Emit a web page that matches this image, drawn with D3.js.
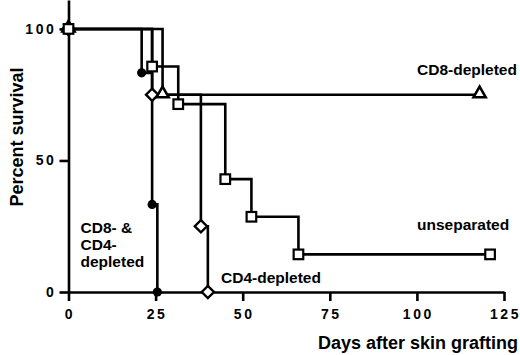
<!DOCTYPE html>
<html>
<head>
<meta charset="utf-8">
<script src="https://cdn.jsdelivr.net/npm/d3@7"></script>
<style>
  body { margin: 0; background: #fff; }
  text { font-family: "Liberation Sans", Arial, sans-serif; font-weight: bold; fill: #000; }
</style>
</head>
<body>
<div id="chart"></div>
<script>
let w = 520;
let h = 355;

// Kaplan-Meier points [day, percent survival]
let doubleDepleted = [[0, 100], [21, 83.3], [24, 33.3], [25.5, 0]];
let cd4Depleted = [[0, 100], [24, 75], [38, 25], [40, 0]];
let unseparated = [[0, 100], [24, 85.7], [31.5, 71.4], [45, 42.9], [52.5, 28.6], [66, 14.3], [121, 14.3]];
let cd8Depleted = [[0, 100], [27, 75], [118, 75]];

let xTicks = [0, 25, 50, 75, 100, 125];
let yTicks = [0, 50, 100];

let svg = d3.select("#chart")
  .append("svg")
    .attr("width", w)
    .attr("height", h);

let xScale = d3.scaleLinear().domain([0, 125]).range([68.5, 504]);
let yScale = d3.scaleLinear().domain([0, 111]).range([292, 0]);

// axes
let xAxisGroup = svg.append("g")
  .attr("transform", "translate(0,292)")
  .call(d3.axisBottom(xScale).tickValues(xTicks).tickSize(9).tickSizeOuter(0).tickPadding(8));

let yAxisGroup = svg.append("g")
  .attr("transform", "translate(68.5,0)")
  .call(d3.axisLeft(yScale).tickValues(yTicks).tickSize(9).tickSizeOuter(0).tickPadding(3));

svg.selectAll(".domain, .tick line")
  .attr("stroke", "#000")
  .attr("stroke-width", 2.6);

svg.selectAll(".tick text")
  .attr("font-family", "Liberation Sans, Arial, sans-serif")
  .attr("font-weight", "bold")
  .attr("font-size", 14)
  .style("letter-spacing", "2.6px")
  .attr("fill", "#000");

xAxisGroup.selectAll(".tick text").attr("dx", 1);

// step lines
let line = d3.line()
  .x(d => xScale(d[0]))
  .y(d => yScale(d[1]))
  .curve(d3.curveStepAfter);

let allSeries = [doubleDepleted, cd4Depleted, unseparated, cd8Depleted];

svg.append("g").selectAll("path")
  .data(allSeries)
  .join("path")
    .attr("d", line)
    .attr("fill", "none")
    .attr("stroke", "#000")
    .attr("stroke-width", 2.6);

// markers
let markerGroup = svg.append("g");

markerGroup.selectAll(".circ")
  .data(doubleDepleted)
  .join("circle")
    .attr("class", "circ")
    .attr("cx", d => xScale(d[0]))
    .attr("cy", d => yScale(d[1]))
    .attr("r", 4.6)
    .attr("fill", "#000");

markerGroup.selectAll(".dia")
  .data(cd4Depleted)
  .join("path")
    .attr("class", "dia")
    .attr("d", d3.symbol().type(d3.symbolDiamond2).size(95))
    .attr("transform", d => "translate(" + xScale(d[0]) + "," + yScale(d[1]) + ")")
    .attr("fill", "#fff")
    .attr("stroke", "#000")
    .attr("stroke-width", 2.4);

markerGroup.selectAll(".tri")
  .data(cd8Depleted)
  .join("path")
    .attr("class", "tri")
    .attr("d", d3.symbol().type(d3.symbolTriangle2).size(105))
    .attr("transform", d => "translate(" + xScale(d[0]) + "," + (yScale(d[1]) - 1) + ")")
    .attr("fill", "#fff")
    .attr("stroke", "#000")
    .attr("stroke-width", 2.6);

markerGroup.selectAll(".sq")
  .data(unseparated)
  .join("rect")
    .attr("class", "sq")
    .attr("x", d => xScale(d[0]) - 4.8)
    .attr("y", d => yScale(d[1]) - 4.8)
    .attr("width", 9.6)
    .attr("height", 9.6)
    .attr("fill", "#fff")
    .attr("stroke", "#000")
    .attr("stroke-width", 2.2);

// series labels
svg.append("text").attr("x", 417).attr("y", 75).attr("font-size", 15.5).text("CD8-depleted");
svg.append("text").attr("x", 417).attr("y", 230).attr("font-size", 15.5).text("unseparated");
svg.append("text").attr("x", 221).attr("y", 283).attr("font-size", 15.5).text("CD4-depleted");

let multi = svg.append("text").attr("x", 80.5).attr("y", 233).attr("font-size", 15.5);
["CD8- &", "CD4-", "depleted"].forEach((t, i) => {
  multi.append("tspan").attr("x", 80.5).attr("dy", i === 0 ? 0 : 17).text(t);
});

// axis titles
svg.append("text")
  .attr("x", 518)
  .attr("y", 349)
  .attr("text-anchor", "end")
  .attr("font-size", 18)
  .text("Days after skin grafting");

svg.append("text")
  .attr("transform", "translate(23,137) rotate(-90)")
  .attr("text-anchor", "middle")
  .attr("font-size", 18)
  .text("Percent survival");
</script>
</body>
</html>
